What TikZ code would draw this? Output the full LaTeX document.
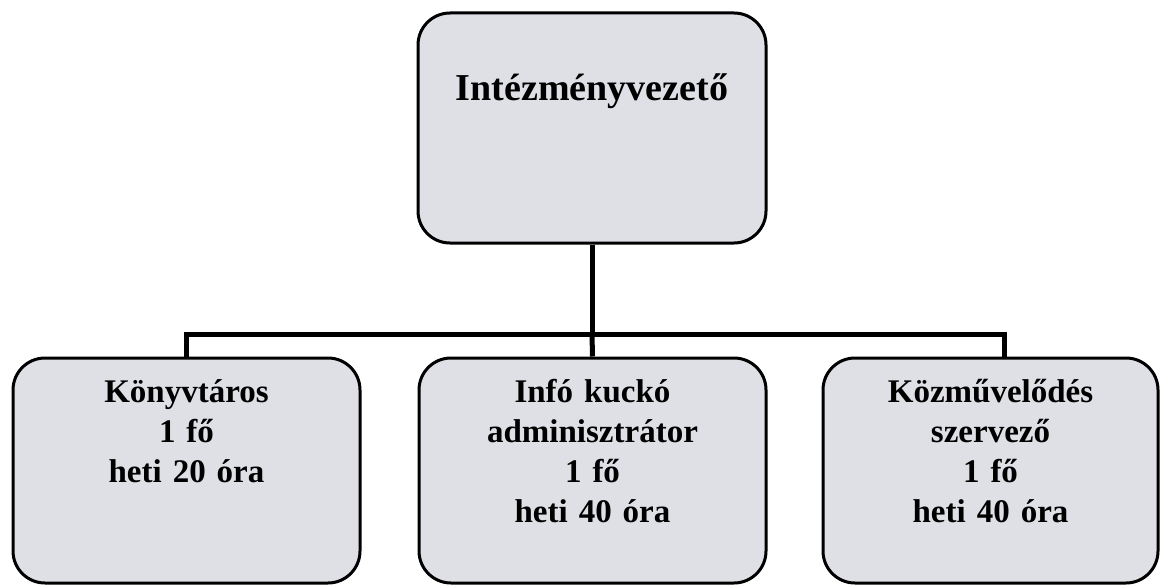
\documentclass[tikz,border=0pt]{standalone}
\usepackage{fontspec}
\setmainfont{Liberation Serif}
\definecolor{boxfill}{RGB}{222,224,230}
\begin{document}
\begin{tikzpicture}[x=0.5pt, y=0.5pt,
    unit/.style={draw, line width=1.5pt, fill=boxfill, rounded corners=16pt,
      inner sep=0pt, align=center, text height=22pt, text depth=90.5pt,
      font=\bfseries\fontsize{16.5}{20}\selectfont},
    link/.style={line width=2.5pt}]
    \useasboundingbox (0,0) rectangle (1160,585);
    % head of the institution
    \node[unit, text width=174pt, text height=43.5pt, text depth=71.5pt,
      font=\bfseries\fontsize{19}{23}\selectfont] (chief) at (592,457) {Intézményvezető};
    % staff
    \node[unit, text width=173.5pt] (lib) at (186.5,114.5) {Könyvtáros\\1 fő\\heti 20 óra};
    \node[unit, text width=173.5pt] (admin) at (592.5,114.5) {Infó kuckó\\adminisztrátor\\1 fő\\heti 40 óra};
    \node[unit, text width=167.5pt] (org) at (990.5,114.5) {Közművelődés\\szervező\\1 fő\\heti 40 óra};
    % connectors
    \draw[link] (chief.south) -- ++(0,-90) coordinate (bus);
    \draw[link] (lib.north) |- (bus) -| ([xshift=7]org.north);
    \draw[link] (bus) -- (admin.north);
\end{tikzpicture}
\end{document}
